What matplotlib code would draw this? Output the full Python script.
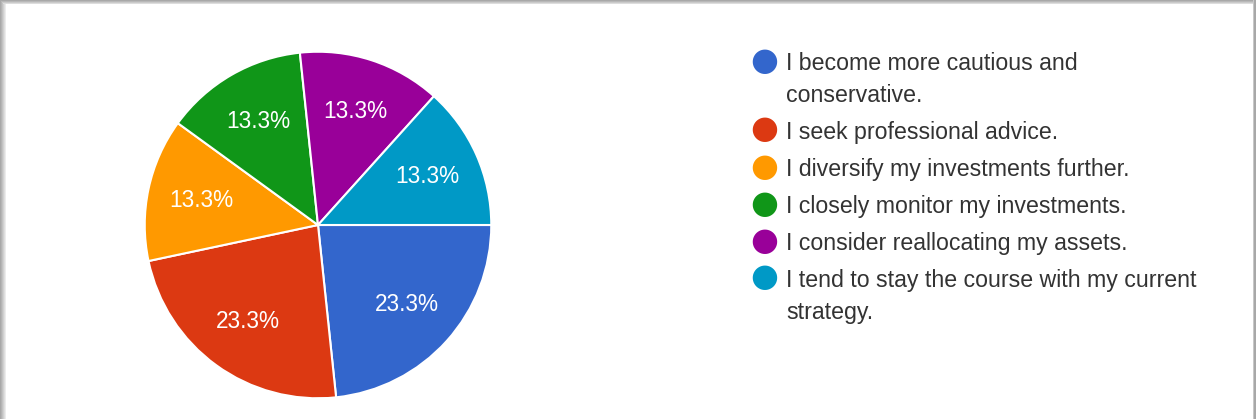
import matplotlib
matplotlib.use("Agg")
import matplotlib.pyplot as plt
from matplotlib.patches import Rectangle

W, H = 1256, 419

answers = [
    "I become more cautious and\nconservative.",
    "I seek professional advice.",
    "I diversify my investments further.",
    "I closely monitor my investments.",
    "I consider reallocating my assets.",
    "I tend to stay the course with my current\nstrategy.",
]
responses = [7, 7, 4, 4, 4, 4]
colors = ["#3366cc", "#dc3912", "#ff9900", "#109618", "#990099", "#0099c6"]

plt.rcParams['font.family'] = ['Liberation Sans', 'DejaVu Sans']

fig = plt.figure(figsize=(W / 100, H / 100), dpi=100)
fig.patch.set_facecolor("white")

def px_rect(x0, y0, x1, y1, color):
    # rectangle in pixel coords, y measured from the top
    fig.patches.append(Rectangle((x0 / W, 1 - y1 / H), (x1 - x0) / W, (y1 - y0) / H,
                                 transform=fig.transFigure, facecolor=color,
                                 edgecolor="none", zorder=0))

# card shadow around the white panel
left_shades = ["#a8a8a8", "#b4b4b4", "#c2c2c2", "#d0d0d0", "#dedede", "#ececec"]
for i, c in enumerate(left_shades):
    px_rect(i, 0, i + 1, H, c)
top_shades = ["#a8a8a8", "#b8b8b8", "#cacaca", "#dddddd"]
for i, c in enumerate(top_shades):
    px_rect(i, i, W, i + 1, c)
px_rect(1253, 0, 1254, H, "#c8c8c8")
px_rect(1254, 0, 1256, H, "#a8a8a8")

# pie, centre (318, 225) px, radius 175 px
cx, cy, r = 318, 225, 175
ax = fig.add_axes([(cx - r) / W, 1 - (cy + r) / H, 2 * r / W, 2 * r / H])
ax.pie(responses, colors=colors, startangle=0, counterclock=False,
       autopct="%.1f%%", pctdistance=0.69,
       wedgeprops=dict(edgecolor="white", linewidth=1.5),
       textprops=dict(color="white", fontsize=16.3))
ax.set_xlim(-1.01, 1.01)
ax.set_ylim(-1.01, 1.01)
ax.set_aspect("auto")
ax.axis("off")

# legend drawn by hand
row_y = 61.5
for label, c in zip(answers, colors):
    fig.text(764 / W, 1 - row_y / H, "\u25cf", color=c, fontsize=23,
             family="DejaVu Sans", ha="center", va="center")
    lines = label.split("\n")
    for k, line in enumerate(lines):
        fig.text(786 / W, 1 - (row_y + k * 31.5) / H, line, color="#333333",
                 fontsize=16.7, ha="left", va="center_baseline")
    row_y += 37 + 31.5 * (len(lines) - 1)

fig.savefig("out.png", dpi=100)
